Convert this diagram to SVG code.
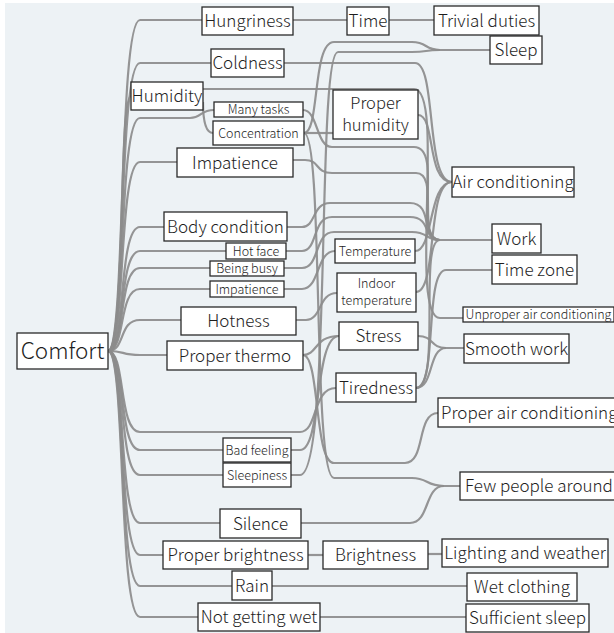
<svg xmlns="http://www.w3.org/2000/svg" width="614" height="633" viewBox="0 0 614 633">
<style>
.e{fill:none;stroke:#8c8c8c;stroke-width:2.2;stroke-opacity:.92}
.n rect{fill:#fff;stroke:#2a2a2a;stroke-width:1.3}
.n text{font-family:"Noto Sans CJK JP","Noto Sans",sans-serif;font-weight:300;fill:#1e1e1e;text-anchor:middle}
.L{font-size:17px}
.M{font-size:16.5px}
.S{font-size:12.5px}
.X{font-size:22.5px}
</style>
<rect x="0" y="0" width="614" height="633" fill="#fff"/>
<rect x="5" y="3" width="609" height="630" fill="#edf2f5"/>
<g id="connectors">
<path class="e" d="M108,351 C126,351 118,20 140,20 H202"/>
<path class="e" d="M108,351 C126,351 118,63 140,63 H211"/>
<path class="e" d="M108,351 C126,351 118,96 131,96"/>
<path class="e" d="M108,351 C126,351 118,118 140,118 H190 C202,118 200,110 214,110"/>
<path class="e" d="M203,102 C203,118 205,133 213,133"/>
<path class="e" d="M108,351 C126,351 118,162 140,162 H177"/>
<path class="e" d="M108,351 C126,351 118,227 140,227 H164"/>
<path class="e" d="M108,351 C126,351 118,251 140,251 H226"/>
<path class="e" d="M108,351 C126,351 118,268 140,268 H210"/>
<path class="e" d="M108,351 C126,351 118,289 140,289 H210"/>
<path class="e" d="M108,351 C126,351 118,320 140,320 H181"/>
<path class="e" d="M108,351 C126,351 120,355 140,355 H167"/>
<path class="e" d="M108,351 C126,351 118,432 140,432 H300 C318,432 312,388 336,388"/>
<path class="e" d="M108,351 C126,351 118,450 140,450 H223"/>
<path class="e" d="M108,351 C126,351 118,475 140,475 H223"/>
<path class="e" d="M108,351 C126,351 118,523 140,523 H220"/>
<path class="e" d="M108,351 C126,351 118,555 140,555 H163"/>
<path class="e" d="M108,351 C126,351 118,586 140,586 H232"/>
<path class="e" d="M108,351 C126,351 118,617 140,617 H198"/>
<path class="e" d="M293,20 H347"/>
<path class="e" d="M389,20 H434"/>
<path class="e" d="M304,133 C320,133 312,42 334,42 H412 C428,42 424,50 440,50 H490"/>
<path class="e" d="M291,475 H300 C332,475 316,52 338,52 H412 C428,52 424,50 440,50"/>
<path class="e" d="M284,63 H415 C437,63 425,182 452,182"/>
<path class="e" d="M203,89 H414 C446,89 408,318 440,318 H463"/>
<path class="e" d="M303,110 C318,110 316,147 332,147 H414 C444,147 412,240 440,240 H492"/>
<path class="e" d="M293,160 H305 C320,160 315,173 332,173 H416 C440,173 416,240 440,240"/>
<path class="e" d="M304,133 H333"/>
<path class="e" d="M418,115 C436,115 426,182 452,182"/>
<path class="e" d="M287,227 H302 C316,227 312,203 330,203 H410 C434,203 420,240 440,240"/>
<path class="e" d="M286,251 H302 C318,251 312,217 332,217 H410 C432,217 422,240 440,240"/>
<path class="e" d="M284,268 H302 C320,268 314,232 334,232 H412 C428,232 426,240 440,240"/>
<path class="e" d="M284,289 H302 C320,289 316,251 335,251"/>
<path class="e" d="M296,320 H306 C322,320 318,293 337,293"/>
<path class="e" d="M303,355 C318,355 314,336 339,336"/>
<path class="e" d="M291,450 H300 C322,450 314,336 339,336"/>
<path class="e" d="M415,251 C434,251 428,182 452,182"/>
<path class="e" d="M416,292 C438,292 426,182 452,182"/>
<path class="e" d="M418,336 C434,336 430,348 446,348 H464"/>
<path class="e" d="M416,388 C434,388 428,348 446,348"/>
<path class="e" d="M416,388 C438,388 424,270 446,270 H492"/>
<path class="e" d="M416,388 C442,388 418,240 440,240"/>
<path class="e" d="M303,355 C320,355 314,463 334,463 H405 C426,463 416,413 438,413"/>
<path class="e" d="M304,133 C324,133 312,478 334,478 H412 C428,478 426,486 444,486 H460"/>
<path class="e" d="M301,523 H410 C430,523 424,486 444,486"/>
<path class="e" d="M307,555 H323"/>
<path class="e" d="M428,554 H442"/>
<path class="e" d="M272,586 H467"/>
<path class="e" d="M320,617 H466"/>
</g>
<g id="comfort" class="n"><rect x="17" y="333" width="91" height="36"/><text class="X" x="62.5" y="359">Comfort</text></g>
<g id="hungriness" class="n"><rect x="202" y="7" width="91" height="28"/><text class="L" x="247.5" y="27">Hungriness</text></g>
<g id="time" class="n"><rect x="347" y="7" width="42" height="28"/><text class="L" x="368" y="27">Time</text></g>
<g id="trivial-duties" class="n"><rect x="434" y="6" width="105" height="29"/><text class="L" x="486.5" y="26.5">Trivial duties</text></g>
<g id="sleep" class="n"><rect x="490" y="36" width="52" height="28"/><text class="L" x="516" y="56">Sleep</text></g>
<g id="coldness" class="n"><rect x="211" y="49" width="73" height="28"/><text class="L" x="247.5" y="69">Coldness</text></g>
<g id="humidity" class="n"><rect x="131" y="82" width="72" height="28"/><text class="L" x="167" y="102">Humidity</text></g>
<g id="many-tasks" class="n"><rect x="214" y="102" width="89" height="15"/><text class="S" x="258.5" y="114">Many tasks</text></g>
<g id="concentration" class="n"><rect x="213" y="121" width="91" height="24"/><text class="S" x="258.5" y="137.5">Concentration</text></g>
<g id="impatience" class="n"><rect x="177" y="148" width="116" height="29"/><text class="L" x="235" y="168.5">Impatience</text></g>
<g id="proper-humidity" class="n"><rect x="333" y="90" width="85" height="49"/><text class="M" x="375.5" y="109">Proper</text><text class="M" x="375.5" y="131">humidity</text></g>
<g id="air-conditioning" class="n"><rect x="452" y="167" width="122" height="30"/><text class="L" x="513" y="188">Air conditioning</text></g>
<g id="body-condition" class="n"><rect x="164" y="212" width="123" height="29"/><text class="L" x="225.5" y="232.5">Body condition</text></g>
<g id="hot-face" class="n"><rect x="226" y="243" width="60" height="16"/><text class="S" x="256" y="255.5">Hot face</text></g>
<g id="being-busy" class="n"><rect x="210" y="261" width="74" height="15"/><text class="S" x="247" y="273">Being busy</text></g>
<g id="impatience-2" class="n"><rect x="210" y="281" width="74" height="16"/><text class="S" x="247" y="293.5">Impatience</text></g>
<g id="hotness" class="n"><rect x="181" y="307" width="115" height="28"/><text class="L" x="238.5" y="327">Hotness</text></g>
<g id="proper-thermo" class="n"><rect x="167" y="341" width="136" height="29"/><text class="L" x="235" y="361.5">Proper thermo</text></g>
<g id="work" class="n"><rect x="492" y="224" width="49" height="29"/><text class="L" x="516.5" y="244.5">Work</text></g>
<g id="time-zone" class="n"><rect x="492" y="255" width="85" height="29"/><text class="L" x="534.5" y="275.5">Time zone</text></g>
<g id="temperature" class="n"><rect x="335" y="239" width="80" height="24"/><text class="S" x="375" y="255.5">Temperature</text></g>
<g id="indoor-temperature" class="n"><rect x="337" y="273" width="79" height="39"/><text class="S" x="376.5" y="287.5">Indoor</text><text class="S" x="376.5" y="305">temperature</text></g>
<g id="unproper-air-conditioning" class="n"><rect x="463" y="307" width="151" height="15"/><text class="S" x="538.5" y="319">Unproper air conditioning</text></g>
<g id="stress" class="n"><rect x="339" y="322" width="79" height="28"/><text class="L" x="378.5" y="342">Stress</text></g>
<g id="smooth-work" class="n"><rect x="464" y="334" width="105" height="29"/><text class="L" x="516.5" y="354.5">Smooth work</text></g>
<g id="tiredness" class="n"><rect x="336" y="373" width="80" height="29"/><text class="L" x="376" y="393.5">Tiredness</text></g>
<g id="proper-air-conditioning" class="n"><rect x="438" y="398" width="180" height="29"/><text class="L" x="441" y="418.5" style="text-anchor:start">Proper air conditioning</text></g>
<g id="few-people-around" class="n"><rect x="460" y="472" width="160" height="28"/><text class="L" x="465" y="492" style="text-anchor:start">Few people around</text></g>
<g id="bad-feeling" class="n"><rect x="223" y="438" width="68" height="24"/><text class="S" x="257" y="454.5">Bad feeling</text></g>
<g id="sleepiness" class="n"><rect x="223" y="463" width="68" height="24"/><text class="S" x="257" y="479.5">Sleepiness</text></g>
<g id="silence" class="n"><rect x="220" y="509" width="81" height="29"/><text class="L" x="260.5" y="529.5">Silence</text></g>
<g id="proper-brightness" class="n"><rect x="163" y="541" width="145" height="28"/><text class="L" x="235.5" y="561">Proper brightness</text></g>
<g id="brightness" class="n"><rect x="323" y="541" width="105" height="28"/><text class="L" x="375.5" y="561">Brightness</text></g>
<g id="lighting-and-weather" class="n"><rect x="442" y="539" width="166" height="28"/><text class="L" x="525" y="559">Lighting and weather</text></g>
<g id="rain" class="n"><rect x="232" y="571" width="40" height="29"/><text class="L" x="252" y="591.5">Rain</text></g>
<g id="wet-clothing" class="n"><rect x="467" y="573" width="110" height="28"/><text class="L" x="522" y="593">Wet clothing</text></g>
<g id="not-getting-wet" class="n"><rect x="198" y="603" width="122" height="28"/><text class="L" x="259" y="623">Not getting wet</text></g>
<g id="sufficient-sleep" class="n"><rect x="466" y="604" width="123" height="28"/><text class="L" x="527.5" y="624">Sufficient sleep</text></g>
</svg>
